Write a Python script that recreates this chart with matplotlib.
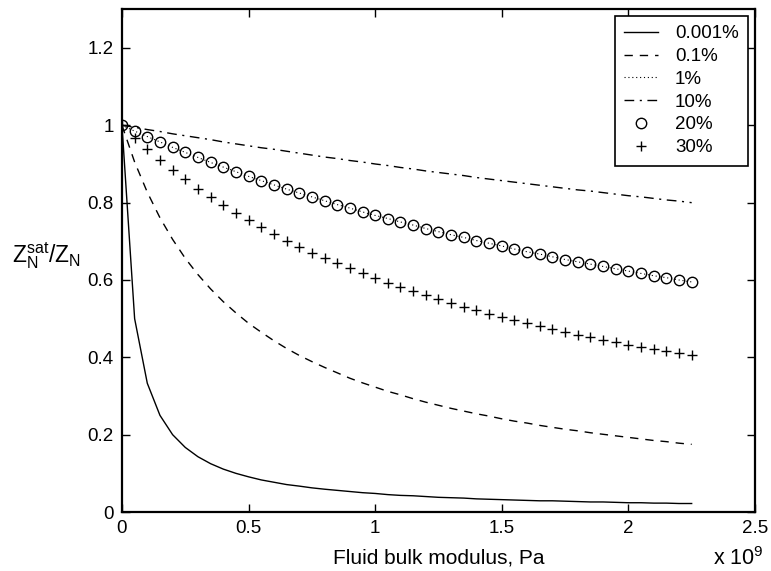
import matplotlib
matplotlib.use("Agg")
import matplotlib.pyplot as plt

plt.rcParams['font.family'] = ['Liberation Sans', 'DejaVu Sans']
plt.rcParams['mathtext.fontset'] = 'custom'
plt.rcParams['mathtext.rm'] = 'Liberation Sans'
plt.rcParams['mathtext.it'] = 'Liberation Sans'

# Fluid bulk modulus (x 1e9 Pa)
modulus = [0.00, 0.05, 0.10, 0.15, 0.20, 0.25, 0.30, 0.35, 0.40, 0.45,
           0.50, 0.55, 0.60, 0.65, 0.70, 0.75, 0.80, 0.85, 0.90, 0.95,
           1.00, 1.05, 1.10, 1.15, 1.20, 1.25, 1.30, 1.35, 1.40, 1.45,
           1.50, 1.55, 1.60, 1.65, 1.70, 1.75, 1.80, 1.85, 1.90, 1.95,
           2.00, 2.05, 2.10, 2.15, 2.20, 2.25]

labels = ['0.001%', '0.1%', '1%', '10%', '20%', '30%']

s_0001 = [1.000, 0.500, 0.333, 0.250, 0.200, 0.167, 0.143, 0.125, 0.111, 0.100,
          0.091, 0.083, 0.077, 0.071, 0.067, 0.0625, 0.059, 0.056, 0.053, 0.050,
          0.048, 0.045, 0.043, 0.042, 0.040, 0.038, 0.037, 0.036, 0.034, 0.033,
          0.032, 0.031, 0.030, 0.029, 0.029, 0.028, 0.027, 0.026, 0.026, 0.025,
          0.024, 0.024, 0.023, 0.023, 0.022, 0.022]

s_01 = [1.000, 0.905, 0.827, 0.761, 0.705, 0.656, 0.614, 0.577, 0.544, 0.515,
        0.488, 0.465, 0.443, 0.423, 0.405, 0.389, 0.374, 0.360, 0.346, 0.334,
        0.323, 0.312, 0.303, 0.293, 0.284, 0.276, 0.268, 0.261, 0.254, 0.248,
        0.241, 0.235, 0.230, 0.224, 0.219, 0.214, 0.210, 0.205, 0.201, 0.197,
        0.193, 0.189, 0.185, 0.182, 0.178, 0.175]

s_1 = [1.000, 0.985, 0.971, 0.957, 0.943, 0.930, 0.917, 0.904, 0.892, 0.880,
       0.868, 0.857, 0.846, 0.835, 0.825, 0.815, 0.805, 0.795, 0.786, 0.776,
       0.767, 0.759, 0.750, 0.742, 0.733, 0.725, 0.717, 0.710, 0.702, 0.695,
       0.688, 0.680, 0.673, 0.667, 0.660, 0.653, 0.647, 0.641, 0.635, 0.629,
       0.623, 0.617, 0.611, 0.606, 0.600, 0.595]

s_10 = [1.000, 0.995, 0.989, 0.984, 0.978, 0.973, 0.968, 0.963, 0.957, 0.952,
        0.947, 0.942, 0.938, 0.933, 0.928, 0.923, 0.918, 0.914, 0.909, 0.905,
        0.900, 0.896, 0.891, 0.887, 0.882, 0.878, 0.874, 0.870, 0.865, 0.861,
        0.857, 0.853, 0.849, 0.845, 0.841, 0.837, 0.833, 0.830, 0.826, 0.822,
        0.818, 0.815, 0.811, 0.807, 0.804, 0.800]

s_20 = [1.000, 0.985, 0.971, 0.957, 0.943, 0.930, 0.917, 0.904, 0.892, 0.880,
        0.868, 0.857, 0.846, 0.835, 0.825, 0.815, 0.805, 0.795, 0.786, 0.776,
        0.767, 0.759, 0.750, 0.742, 0.733, 0.725, 0.717, 0.710, 0.702, 0.695,
        0.688, 0.680, 0.673, 0.667, 0.660, 0.653, 0.647, 0.641, 0.635, 0.629,
        0.623, 0.617, 0.611, 0.606, 0.600, 0.595]

s_30 = [1.000, 0.968, 0.939, 0.911, 0.884, 0.860, 0.836, 0.814, 0.793, 0.773,
        0.754, 0.736, 0.718, 0.702, 0.686, 0.671, 0.657, 0.643, 0.630, 0.617,
        0.605, 0.593, 0.582, 0.571, 0.560, 0.550, 0.541, 0.531, 0.522, 0.513,
        0.505, 0.497, 0.489, 0.481, 0.474, 0.466, 0.459, 0.453, 0.446, 0.440,
        0.433, 0.427, 0.421, 0.416, 0.410, 0.405]

xticks = [0, 0.5, 1, 1.5, 2, 2.5]
xticklabels = ['0', '0.5', '1', '1.5', '2', '2.5']
yticks = [0, 0.2, 0.4, 0.6, 0.8, 1.0, 1.2]
yticklabels = ['0', '0.2', '0.4', '0.6', '0.8', '1', '1.2']

fig = plt.figure(figsize=(7.71, 5.71), dpi=100)
ax = fig.add_axes([0.1582, 0.1033, 0.8210, 0.8804])

lw = 1.0
ax.plot(modulus, s_0001, color='black', lw=lw, ls='-', label=labels[0])
ax.plot(modulus, s_01, color='black', lw=lw, ls=(0, (6, 5)), label=labels[1])
ax.plot(modulus, s_1, color='black', lw=0.8, ls=(0, (1, 2.5)), label=labels[2])
ax.plot(modulus, s_10, color='black', lw=lw, ls=(0, (7, 4, 1.5, 4)), label=labels[3])
ax.plot(modulus, s_20, color='black', ls='none', marker='o', markersize=7.5,
        markerfacecolor='none', markeredgewidth=1.0, label=labels[4])
ax.plot(modulus, s_30, color='black', ls='none', marker='+', markersize=7.5,
        markeredgewidth=1.0, label=labels[5])

ax.set_xlim(0, 2.5)
ax.set_ylim(0, 1.3)
ax.set_xticks(xticks)
ax.set_xticklabels(xticklabels)
ax.set_yticks(yticks)
ax.set_yticklabels(yticklabels)
ax.tick_params(direction='in', length=6, width=1.0, top=True, right=True,
               labelsize=13.5, pad=6, colors='black')
for sp in ax.spines.values():
    sp.set_linewidth(1.6)
    sp.set_color('black')

ax.set_xlabel('Fluid bulk modulus, Pa', fontsize=15, labelpad=8)
ax.set_ylabel(r'$\mathrm{Z_N^{sat}/Z_N}$', fontsize=16.5, rotation=0, va='center', ha='center')
ax.yaxis.set_label_coords(-0.12, 0.511)
fig.text(0.957, 0.022, r'x 10$^{9}$', fontsize=15.5, ha='center', va='center')

leg = ax.legend(loc='upper right', bbox_to_anchor=(0.989, 0.9867), fontsize=13.5,
                frameon=True, fancybox=False, edgecolor='black', framealpha=1,
                handlelength=1.8, borderpad=0.5, labelspacing=0.3,
                handletextpad=0.9, borderaxespad=0)
leg.get_frame().set_linewidth(1.2)

fig.savefig('out.png', dpi=100)
